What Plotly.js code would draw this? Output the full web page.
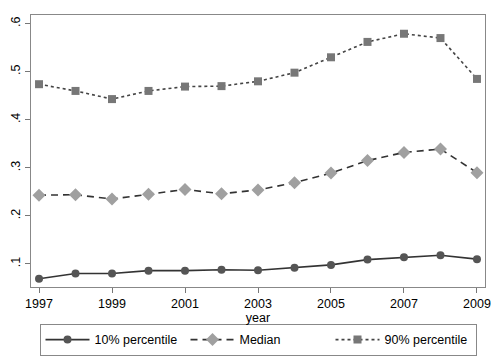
<!DOCTYPE html>
<html>
<head>
<meta charset="utf-8">
<script src="https://cdn.plot.ly/plotly-3.0.1.min.js"></script>
<style>
  html, body {margin: 0; padding: 0; background: #fff;}
  #chart {width: 499px; height: 362px;}
</style>
</head>
<body>
<div id="chart"></div>
<script>
const years = [1997, 1998, 1999, 2000, 2001, 2002, 2003, 2004, 2005, 2006, 2007, 2008, 2009];
const p10 = [0.069, 0.080, 0.080, 0.086, 0.086, 0.088, 0.087, 0.092, 0.098, 0.109, 0.114, 0.118, 0.110];
const median = [0.243, 0.244, 0.235, 0.245, 0.255, 0.246, 0.254, 0.269, 0.289, 0.315, 0.332, 0.339, 0.290];
const p90 = [0.474, 0.460, 0.443, 0.460, 0.469, 0.470, 0.480, 0.498, 0.530, 0.562, 0.579, 0.570, 0.485];

const xTicks = [1997, 1999, 2001, 2003, 2005, 2007, 2009];
const yTicks = [0.1, 0.2, 0.3, 0.4, 0.5, 0.6];
const yTickText = ['.1', '.2', '.3', '.4', '.5', '.6'];

const font = {family: 'Liberation Sans, Arial, sans-serif', size: 12.5, color: '#000'};

var trace1 = {
    x: years, y: p10, name: '10% percentile',
    mode: 'lines+markers', type: 'scatter',
    line: {color: '#333', width: 1.6, dash: 'solid'},
    marker: {symbol: 'circle', size: 8, color: '#555'}
};
var trace2 = {
    x: years, y: median, name: 'Median',
    mode: 'lines+markers', type: 'scatter',
    line: {color: '#333', width: 1.6, dash: '7px,5px'},
    marker: {symbol: 'diamond', size: 10, color: '#a0a0a0'}
};
var trace3 = {
    x: years, y: p90, name: '90% percentile',
    mode: 'lines+markers', type: 'scatter',
    line: {color: '#444', width: 1.6, dash: 'dot'},
    marker: {symbol: 'square', size: 8, color: '#777'}
};

var layout = {
    width: 499, height: 362,
    margin: {l: 31, r: 14, t: 15, b: 75, autoexpand: false},
    paper_bgcolor: '#fff', plot_bgcolor: '#fff',
    font: font,
    showlegend: true,
    xaxis: {
        range: [1996.78, 2009.22],
        tickvals: xTicks, ticktext: xTicks.map(String),
        ticks: 'outside', ticklen: 5, tickcolor: '#777',
        showgrid: false, zeroline: false,
        showline: true, mirror: true, linecolor: '#888', linewidth: 1,
        title: {text: 'year', font: font, standoff: 0}
    },
    yaxis: {
        range: [0.052, 0.618],
        tickvals: yTicks, ticktext: yTickText,
        tickangle: -90,
        ticks: 'outside', ticklen: 5, tickcolor: '#777',
        showgrid: false, zeroline: false,
        showline: true, mirror: true, linecolor: '#888', linewidth: 1
    },
    legend: {
        orientation: 'h',
        x: 0.5, xanchor: 'center',
        y: -0.136, yanchor: 'top',
        bordercolor: '#888', borderwidth: 1,
        font: font,
        itemwidth: 44,
        entrywidth: 86,
        traceorder: 'normal'
    }
};

Plotly.newPlot('chart', [trace1, trace2, trace3], layout, {displayModeBar: false, staticPlot: true});
</script>
</body>
</html>
